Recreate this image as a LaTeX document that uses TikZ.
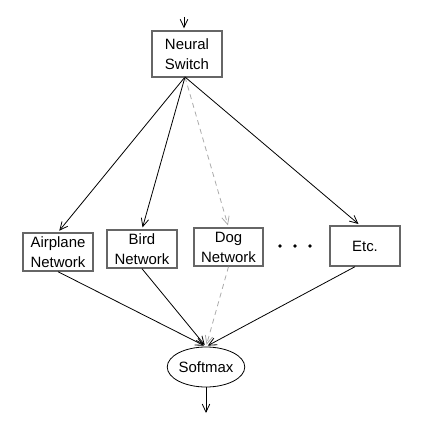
\documentclass[tikz,border=0pt]{standalone}
\usepackage{fontspec}
\setmainfont{Liberation Sans}
\usetikzlibrary{arrows.meta,shapes.geometric}
\definecolor{boxgray}{HTML}{666666}
\definecolor{dashgray}{HTML}{AAAAAA}
\begin{document}
\begin{tikzpicture}[x=1bp,y=-1bp,
  netbox/.style={draw=boxgray,line width=1.4bp,rectangle,minimum width=70bp,minimum height=38bp,inner sep=0pt,align=center,font=\fontsize{15}{20}\selectfont},
  conn/.style={draw=black,line width=0.8bp,-{Straight Barb[length=8bp,width=7.5bp]},shorten >=2bp},
  ghost/.style={conn,draw=dashgray,dash pattern=on 5bp off 4bp}
]
\useasboundingbox (0,0) rectangle (435,443);
\node[netbox,minimum height=46bp] (sw) at (187,54) {Neural\\Switch};
\node[netbox] (air) at (58,252) {Airplane\\Network};
\node[netbox] (bird) at (142,249) {Bird\\Network};
\node[netbox,minimum width=69bp] (dog) at (228.5,247) {Dog\\Network};
\node[netbox,minimum height=40bp] (etc) at (365,246) {Etc.};
\node[draw=black,line width=0.8bp,ellipse,minimum width=70bp,minimum height=40bp,inner sep=0pt,font=\fontsize{15}{20}\selectfont] (sm) at (206,367) {Softmax};
\coordinate (in) at (184,17);
\coordinate (out) at (206,415);
\coordinate (src) at (185,77);
\foreach \x in {280,295,310} \fill (\x,246) circle (1.9bp);
\draw[conn] (in) -- (sw.north -| in);
\draw[conn] (src) -- (air.north);
\draw[conn] (src) -- (bird.north);
\draw[ghost] (src) -- (dog.north);
\draw[conn] (src) -- ([xshift=-5bp]etc.north);
\draw[conn] (air.south) -- (sm.north);
\draw[conn] (bird.south) -- (sm.north);
\draw[ghost] (dog.south) -- (sm.north);
\draw[conn] ([xshift=-10bp]etc.south) -- (sm.north);
\draw[conn] (sm.south) -- (out);
\end{tikzpicture}
\end{document}
